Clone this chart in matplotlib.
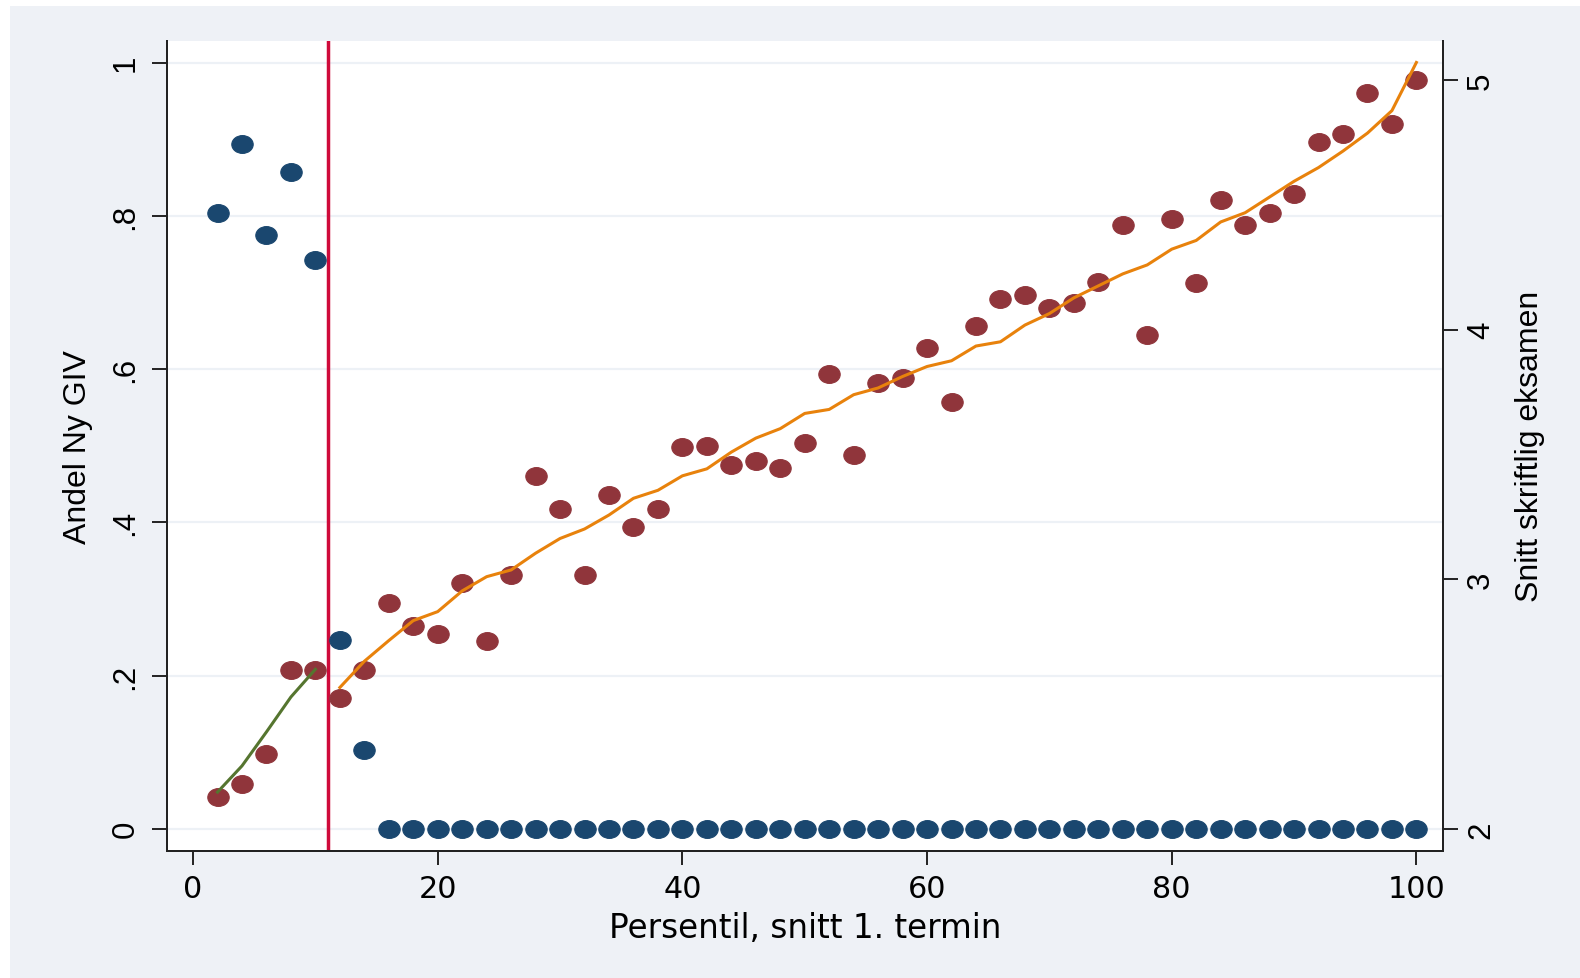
import numpy as np
import matplotlib
matplotlib.use('Agg')
import matplotlib.pyplot as plt
from matplotlib.path import Path
from matplotlib.patches import Rectangle

# percentile bins (x) shared by all series
pct = list(range(2, 101, 2))

# share in Ny GIV (left axis)
andel_ny_giv = [0.803, 0.894, 0.775, 0.857, 0.742, 0.246, 0.103] + [0.0] * 43

# average written exam grade (right axis)
snitt_eksamen = [2.126, 2.178, 2.298, 2.635, 2.635, 2.524, 2.635, 2.905, 2.811, 2.782,
                 2.985, 2.754, 3.016, 3.414, 3.282, 3.016, 3.339, 3.209, 3.282, 3.528,
                 3.534, 3.456, 3.473, 3.444, 3.544, 3.823, 3.496, 3.785, 3.804, 3.925,
                 3.708, 4.014, 4.123, 4.139, 4.085, 4.108, 4.190, 4.420, 3.980, 4.441,
                 4.188, 4.518, 4.418, 4.466, 4.544, 4.751, 4.782, 4.946, 4.825, 4.998]

# fitted lines below / above the cutoff
fit_low_x = [2, 4, 6, 8, 10]
fit_low_y = [2.147, 2.252, 2.388, 2.528, 2.639]
fit_high_x = list(range(12, 101, 2))
fit_high_y = [2.566, 2.671, 2.754, 2.834, 2.870, 2.953, 3.010, 3.037, 3.104, 3.163,
              3.201, 3.257, 3.324, 3.356, 3.414, 3.442, 3.509, 3.565, 3.603, 3.664,
              3.680, 3.739, 3.766, 3.812, 3.852, 3.875, 3.934, 3.951, 4.018, 4.064,
              4.127, 4.175, 4.223, 4.259, 4.322, 4.357, 4.431, 4.468, 4.531, 4.594,
              4.649, 4.715, 4.787, 4.877, 5.070]
cutoff = 11

left_ticks = [0, 0.2, 0.4, 0.6, 0.8, 1]
left_labels = ['0', '.2', '.4', '.6', '.8', '1']
right_ticks = [2, 3, 4, 5]
x_ticks = [0, 20, 40, 60, 80, 100]

navy = '#1a476f'
maroon = '#90353b'
bg = '#eef1f6'

# stretched oval marker like the stata export
circ = Path.unit_circle()
oval = Path(circ.vertices * [1.2, 1.0], circ.codes)

fig = plt.figure(figsize=(15.8, 9.79), dpi=100, facecolor='white')
fig.patches.append(Rectangle((10 / 1580, 0), 1 - 10 / 1580, 1 - 7 / 979,
                             transform=fig.transFigure, facecolor=bg,
                             edgecolor='none', zorder=-10))

ax = fig.add_axes([167 / 1580, 1 - 851.7 / 979, (1443.3 - 167) / 1580, (851.7 - 41.7) / 979])
ax.set_facecolor('white')
ax2 = ax.twinx()

ax.set_xlim(-2.13, 102.2)
ax.set_ylim(-0.0286, 1.0285)
ax2.set_ylim(1.9122, 5.1572)

ax.yaxis.grid(True, color='#edf1f6', linewidth=1.6)
ax.set_axisbelow(True)

ax.axvline(cutoff, color='#cf0a3a', linewidth=2.5, zorder=2)
ax.plot(pct, andel_ny_giv, linestyle='none', marker=oval, markersize=15.4,
        color=navy, markeredgewidth=0.8, zorder=3)

ax2.plot(pct, snitt_eksamen, linestyle='none', marker=oval, markersize=15.4,
         color=maroon, markeredgewidth=0.8, zorder=3)
ax2.plot(fit_low_x, fit_low_y, color='#55752f', linewidth=2.2, zorder=4)
ax2.plot(fit_high_x, fit_high_y, color='#e8820c', linewidth=2.2, zorder=4)

for a in (ax, ax2):
    a.spines['top'].set_visible(False)
    for s in ('left', 'right', 'bottom'):
        a.spines[s].set_color('#222222')
        a.spines[s].set_linewidth(1.4)

ax.set_xticks(x_ticks)
ax.set_xticklabels([str(t) for t in x_ticks], fontsize=21.8, family='DejaVu Sans')
ax.tick_params(axis='x', length=10, width=1.4, pad=7, colors='#222222', labelcolor='black')

ax.set_yticks(left_ticks)
ax.set_yticklabels(left_labels, fontsize=22.5, family='Liberation Sans', rotation=90, va='center')
ax.tick_params(axis='y', length=11, width=1.4, pad=8.0, colors='#222222', labelcolor='black')

ax2.set_yticks(right_ticks)
ax2.set_yticklabels([str(t) for t in right_ticks], fontsize=22.5, family='Liberation Sans',
                    rotation=90, va='center')
ax2.tick_params(axis='y', length=11, width=1.4, pad=5.5, colors='#222222', labelcolor='black')

ax.set_xlabel('Persentil, snitt 1. termin', fontsize=23.5, family='DejaVu Sans', va='center')
ax.xaxis.set_label_coords(0.5, -0.0946)
ax.set_ylabel('Andel Ny GIV', fontsize=23, family='Liberation Sans', va='center')
ax.yaxis.set_label_coords(-0.0701, 0.5)
ax2.set_ylabel('Snitt skriftlig eksamen', fontsize=23, family='Liberation Sans',
               va='center', rotation=90)
ax2.yaxis.set_label_coords(1.068, 0.5)

fig.savefig('out.png', dpi=100, facecolor=fig.get_facecolor())
